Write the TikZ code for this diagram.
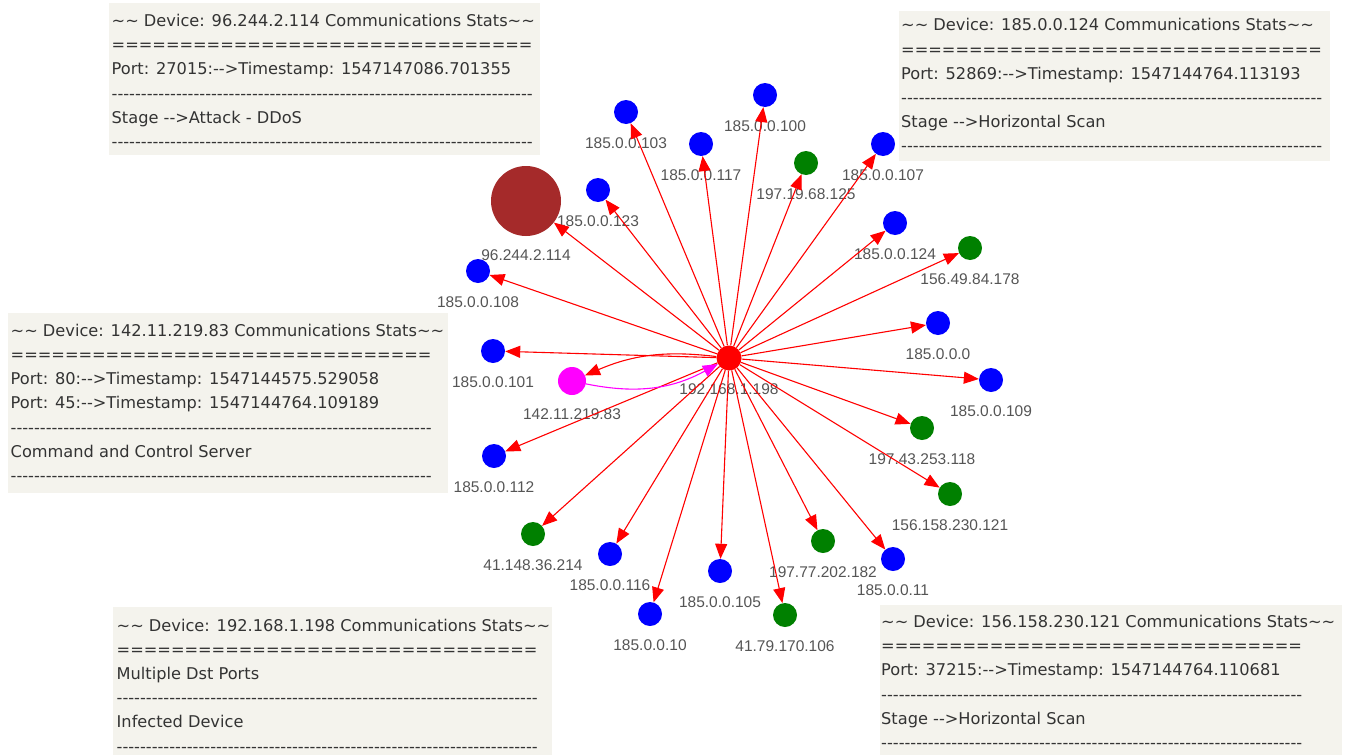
\documentclass[tikz,border=0pt]{standalone}
\usepackage{fontspec}
\newfontfamily\boxfont{DejaVu Sans}[Ligatures=TeXOff]
\newfontfamily\lblfont{Liberation Sans}
\usetikzlibrary{arrows.meta}

\ExplSyntaxOn
\cs_new:Npn \reprow #1#2 { \prg_replicate:nn {#1} {#2} }
\ExplSyntaxOff

\definecolor{hostblue}{RGB}{0,0,255}
\definecolor{hostgreen}{RGB}{0,128,0}
\definecolor{hostbrown}{RGB}{165,42,42}
\definecolor{hostmagenta}{RGB}{255,0,255}
\definecolor{hostred}{RGB}{255,0,0}
\definecolor{edgered}{RGB}{255,0,0}
\definecolor{lblgray}{RGB}{85,85,85}
\definecolor{tipbg}{RGB}{244,243,237}
\definecolor{tiptext}{RGB}{51,51,51}

\tikzset{
  host/.style={circle, inner sep=0pt, draw=none},
  bluehost/.style={host, fill=hostblue},
  greenhost/.style={host, fill=hostgreen},
  lbl/.style={font=\lblfont\fontsize{15.5}{18}\selectfont, text=lblgray, inner sep=0pt},
  link/.style={draw=edgered, line width=1.1pt, -{Triangle[length=15pt,width=12pt]}},
  tipline/.style={font=\boxfont\fontsize{16.2}{19}\selectfont, text=tiptext, anchor=base west, inner sep=0pt},
  tipbox/.style={fill=tipbg}
}

% host circle with its address printed underneath
\newcommand\hostnode[6]{%
  \node[#4, minimum size=#5pt] (#1) at (#2,#3) {};
  \node[lbl] (#1-lbl) at (#2,{#3+#5/2+19}) {#6};
}
% lines of a stats panel, one node per line
\newcommand\tiplines[4]{%
  \foreach \ln [count=\k from 0] in {#4} {%
    \node[tipline] (#1-\k) at (#2,{#3+\k*24.2}) {\ln};
  }%
}
\newcommand\tld{\textasciitilde\textasciitilde}

\begin{document}
\begin{tikzpicture}[x=1pt,y=-1pt]
\useasboundingbox (0,0) rectangle (1350,755);
\fill[white] (0,0) rectangle (1350,755);

% hosts
\hostnode{c}{729}{358}{host, fill=hostred}{25}{192.168.1.198}
\hostnode{ddos}{526}{201}{host, fill=hostbrown}{70}{96.244.2.114}
\hostnode{cc}{572}{381}{host, fill=hostmagenta}{28}{142.11.219.83}
\hostnode{n123}{598}{190}{bluehost}{24}{185.0.0.123}
\hostnode{n103}{626}{112}{bluehost}{24}{185.0.0.103}
\hostnode{n117}{701}{144}{bluehost}{24}{185.0.0.117}
\hostnode{n100}{765}{95}{bluehost}{24}{185.0.0.100}
\hostnode{g125}{806}{163}{greenhost}{24}{197.19.68.125}
\hostnode{n107}{883}{144}{bluehost}{24}{185.0.0.107}
\hostnode{n124}{895}{223}{bluehost}{24}{185.0.0.124}
\hostnode{g178}{970}{248}{greenhost}{24}{156.49.84.178}
\hostnode{n0}{938}{323}{bluehost}{24}{185.0.0.0}
\hostnode{n109}{991}{380}{bluehost}{24}{185.0.0.109}
\hostnode{g118}{922}{428}{greenhost}{24}{197.43.253.118}
\hostnode{g121}{950}{494}{greenhost}{24}{156.158.230.121}
\hostnode{n11}{893}{559}{bluehost}{24}{185.0.0.11}
\hostnode{g182}{823}{541}{greenhost}{24}{197.77.202.182}
\hostnode{g106}{785}{615}{greenhost}{24}{41.79.170.106}
\hostnode{n105}{720}{571}{bluehost}{24}{185.0.0.105}
\hostnode{n10}{650}{614}{bluehost}{24}{185.0.0.10}
\hostnode{n116}{610}{554}{bluehost}{24}{185.0.0.116}
\hostnode{g214}{533}{534}{greenhost}{24}{41.148.36.214}
\hostnode{n112}{494}{456}{bluehost}{24}{185.0.0.112}
\hostnode{n101}{493}{351}{bluehost}{24}{185.0.0.101}
\hostnode{n108}{478}{271}{bluehost}{24}{185.0.0.108}

% outgoing traffic of the infected device
\foreach \t in {ddos,n123,n103,n117,n100,g125,n107,n124,g178,n0,n109,g118,
                g121,n11,g182,g106,n105,n10,n116,g214,n112,n101,n108}
  \draw[link] (c) -- (\t);
\draw[link] (c) to[bend right=15] (cc);
\draw[link, draw=hostmagenta] (cc) to[bend right=20] (c);

% stats panels
\fill[tipbox] (109,3) rectangle (540,155);
\tiplines{p1}{111.5}{26.5}{\tld{} Device: 96.244.2.114 Communications Stats\tld,
  \reprow{31}{=}, Port: 27015:-->Timestamp: 1547147086.701355, \reprow{72}{-},
  Stage -->Attack - DDoS, \reprow{72}{-}}

\fill[tipbox] (899,11) rectangle (1330,161);
\tiplines{p2}{901}{30.8}{\tld{} Device: 185.0.0.124 Communications Stats\tld,
  \reprow{31}{=}, Port: 52869:-->Timestamp: 1547144764.113193, \reprow{72}{-},
  Stage -->Horizontal Scan, \reprow{72}{-}}

\fill[tipbox] (8,313) rectangle (448,493);
\tiplines{p3}{10.5}{336.3}{\tld{} Device: 142.11.219.83 Communications Stats\tld,
  \reprow{31}{=}, Port: 80:-->Timestamp: 1547144575.529058,
  Port: 45:-->Timestamp: 1547144764.109189, \reprow{72}{-},
  Command and Control Server, \reprow{72}{-}}

\fill[tipbox] (113,607) rectangle (552,755);
\tiplines{p4}{116.5}{631}{\tld{} Device: 192.168.1.198 Communications Stats\tld,
  \reprow{31}{=}, Multiple Dst Ports, \reprow{72}{-},
  Infected Device, \reprow{72}{-}}

\fill[tipbox] (880,605) rectangle (1342,755);
\tiplines{p5}{881}{627.5}{\tld{} Device: 156.158.230.121 Communications Stats\tld,
  \reprow{31}{=}, Port: 37215:-->Timestamp: 1547144764.110681, \reprow{72}{-},
  Stage -->Horizontal Scan, \reprow{72}{-}}
\end{tikzpicture}
\end{document}
